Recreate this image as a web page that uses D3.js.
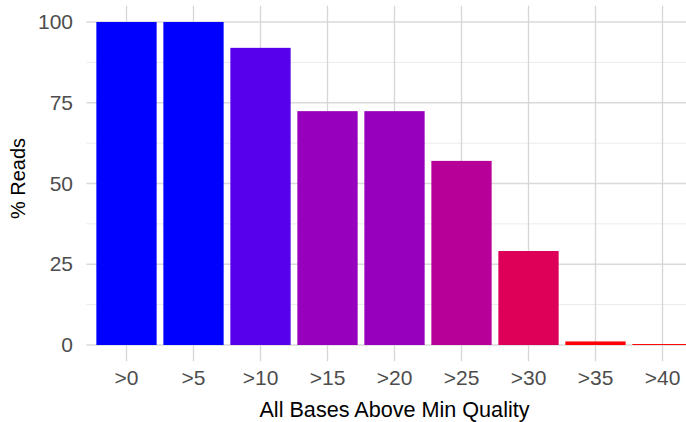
<!DOCTYPE html>
<html>
<head>
<meta charset="utf-8">
<script src="https://cdn.jsdelivr.net/npm/d3@7"></script>
<style>
  html, body { margin: 0; padding: 0; background: #fff; }
  svg { display: block; font-family: "Liberation Sans", Arial, Helvetica, sans-serif; }
</style>
</head>
<body>
<div id="chart"></div>
<script>
// Data
const categories = [">0", ">5", ">10", ">15", ">20", ">25", ">30", ">35", ">40"];
const percentReads = [100, 100, 92, 72.4, 72.4, 57, 29.1, 1.1, 0.3];
const yTicks = [0, 25, 50, 75, 100];
const yMinorTicks = [12.5, 37.5, 62.5, 87.5];
const xTitle = "All Bases Above Min Quality";
const yTitle = "% Reads";

const W = 686, H = 422;
const panel = { left: 86.3, right: 702.7, top: 5.85, bottom: 361.15 };

const svg = d3.select("#chart").append("svg")
  .attr("width", W).attr("height", H);

const x = d3.scaleBand()
  .domain(categories)
  .range([panel.left, panel.right])
  .paddingInner(0.1)
  .paddingOuter(0.15);

const y = d3.scaleLinear()
  .domain([-5, 105])
  .range([panel.bottom, panel.top]);

const vmin = d3.min(percentReads), vmax = d3.max(percentReads);
const color = d3.scaleLinear()
  .domain([vmin, vmax])
  .range(["#ff0000", "#0000ff"])
  .interpolate(d3.interpolateLab);

// Gridlines
const grid = svg.append("g");
grid.selectAll("line.minor").data(yMinorTicks).join("line")
  .attr("class", "minor")
  .attr("x1", panel.left).attr("x2", panel.right)
  .attr("y1", d => y(d)).attr("y2", d => y(d))
  .attr("stroke", "#ebebeb").attr("stroke-width", 1);
grid.selectAll("line.majorY").data(yTicks).join("line")
  .attr("class", "majorY")
  .attr("x1", panel.left).attr("x2", panel.right)
  .attr("y1", d => y(d)).attr("y2", d => y(d))
  .attr("stroke", "#dadada").attr("stroke-width", 1.3);
grid.selectAll("line.majorX").data(categories).join("line")
  .attr("class", "majorX")
  .attr("x1", d => x(d) + x.bandwidth() / 2).attr("x2", d => x(d) + x.bandwidth() / 2)
  .attr("y1", panel.top).attr("y2", panel.bottom)
  .attr("stroke", "#d6d6d6").attr("stroke-width", 1.3);

// Bars
svg.append("g").selectAll("rect").data(categories).join("rect")
  .attr("x", d => x(d))
  .attr("width", x.bandwidth())
  .attr("y", (d, i) => y(percentReads[i]))
  .attr("height", (d, i) => y(0) - y(percentReads[i]))
  .attr("fill", (d, i) => color(percentReads[i]));

// Y axis labels
const yAxis = d3.axisLeft(y).tickValues(yTicks).tickSize(0).tickPadding(0);
const yg = svg.append("g").attr("transform", `translate(${73},0)`).call(yAxis);
yg.select(".domain").remove();
yg.selectAll("text").attr("font-size", 21).attr("fill", "#4d4d4d")
  .attr("font-family", "Liberation Sans, Arial, sans-serif");

// X axis labels
const xAxis = d3.axisBottom(x).tickSize(0).tickPadding(0);
const xg = svg.append("g").attr("transform", `translate(0,${370.5})`).call(xAxis);
xg.select(".domain").remove();
xg.selectAll("text").attr("font-size", 21).attr("fill", "#4d4d4d")
  .attr("font-family", "Liberation Sans, Arial, sans-serif");

// Titles
svg.append("text")
  .attr("x", (panel.left + panel.right) / 2).attr("y", 417)
  .attr("text-anchor", "middle")
  .attr("font-size", 21.6).attr("fill", "#000")
  .text(xTitle);

svg.append("text")
  .attr("transform", `translate(25,${178.5}) rotate(-90)`)
  .attr("text-anchor", "middle")
  .attr("font-size", 20).attr("fill", "#000")
  .text(yTitle);
</script>
</body>
</html>
